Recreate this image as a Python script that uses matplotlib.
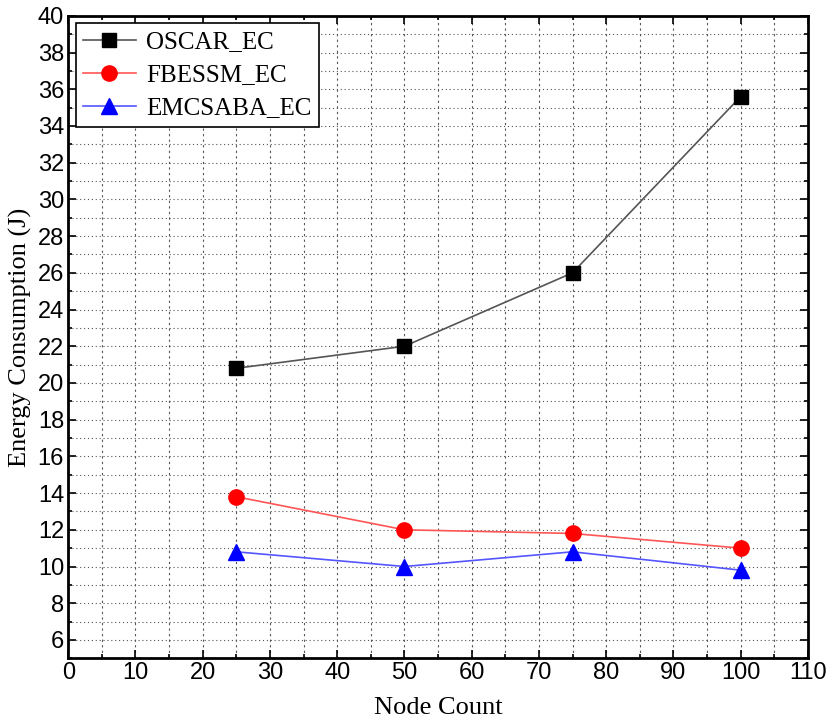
import matplotlib
matplotlib.use('Agg')
import matplotlib.pyplot as plt
from matplotlib.ticker import MultipleLocator

nodes = [25, 50, 75, 100]
oscar = [20.8, 22.0, 26.0, 35.6]
fbessm = [13.8, 12.0, 11.8, 11.0]
emcsaba = [10.8, 10.0, 10.8, 9.8]

fig = plt.figure(figsize=(8.32, 7.21), dpi=100)
ax = fig.add_axes([0.082, 0.087, 0.889, 0.891])

ax.plot(nodes, oscar, color='#555555', lw=1.2, marker='s', ms=10, mfc='black', mec='black', label='OSCAR_EC')
ax.plot(nodes, fbessm, color='#ff5555', lw=1.2, marker='o', ms=11, mfc='red', mec='red', label='FBESSM_EC')
ax.plot(nodes, emcsaba, color='#5555ff', lw=1.2, marker='^', ms=12, mfc='blue', mec='blue', label='EMCSABA_EC')

ax.set_xlim(0, 110)
ax.set_ylim(5, 40)
ax.xaxis.set_major_locator(MultipleLocator(10))
ax.xaxis.set_minor_locator(MultipleLocator(5))
ax.yaxis.set_major_locator(MultipleLocator(2))
ax.yaxis.set_minor_locator(MultipleLocator(1))
ax.set_yticks(range(6, 41, 2))

ax.grid(True, which='both', axis='x', color='#555555', ls=(0, (2, 3)), lw=0.8)
ax.grid(True, which='both', axis='y', color='#555555', ls=(0, (1, 2.5)), lw=0.8)
ax.set_axisbelow(True)

ax.tick_params(which='both', direction='in', top=True, right=True, width=1.2)
ax.tick_params(which='major', length=6, labelsize=17, pad=3)
ax.tick_params(which='minor', length=3)
for s in ax.spines.values():
    s.set_linewidth(2)

tick_font = ['Liberation Sans', 'DejaVu Sans']
for lab in ax.get_xticklabels() + ax.get_yticklabels():
    lab.set_family(tick_font)

ax.set_xlabel('Node Count', family='Liberation Serif', fontsize=19, labelpad=9)
ax.set_ylabel('Energy Consumption (J)', family='Liberation Serif', fontsize=19, labelpad=4)

leg = ax.legend(loc='upper left', prop={'family': 'Liberation Serif', 'size': 18},
                fancybox=False, edgecolor='black', framealpha=1, borderaxespad=0.3,
                handlelength=2.1, labelspacing=0.42, borderpad=0.3, handletextpad=0.4)
leg.get_frame().set_linewidth(1.2)

fig.savefig('out.png', dpi=100)
